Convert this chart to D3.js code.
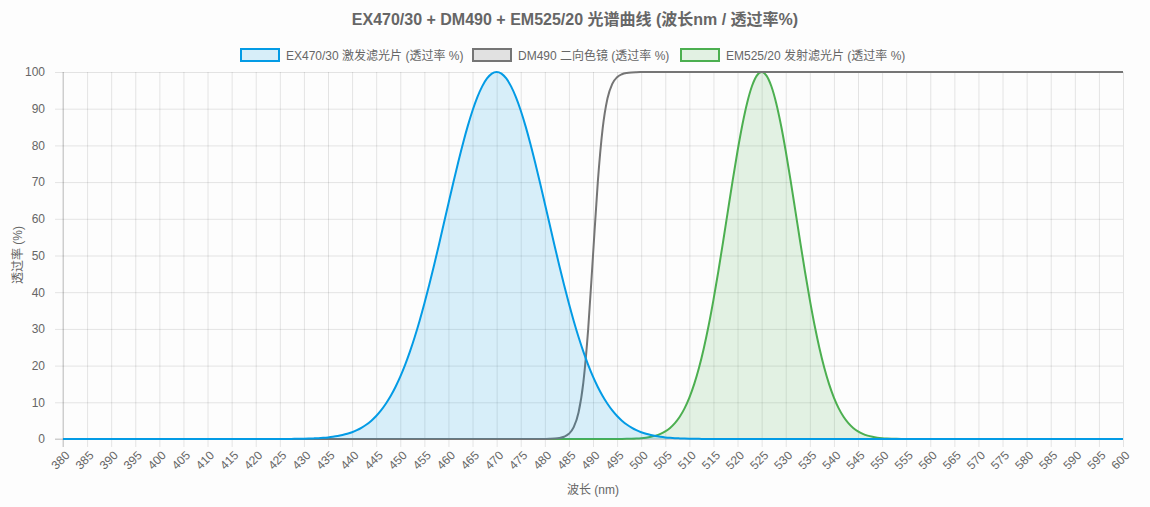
<!DOCTYPE html>
<html>
<head>
<meta charset="utf-8">
<script src="https://cdn.jsdelivr.net/npm/d3@7"></script>
<style>
  body { margin: 0; background: #fdfdfd; }
  svg { font-family: "Liberation Sans", Arial, "Noto Sans CJK SC", sans-serif; }
</style>
</head>
<body>
<div class="spectrum-plot"></div>
<script>
// wavelengths, 1 nm steps
const wavelengths = d3.range(380, 601);
const xTickLabels = d3.range(380, 601, 5);
const yTickLabels = [0, 10, 20, 30, 40, 50, 60, 70, 80, 90, 100];

// EX470/30 transmission (%), 380..600 nm
const exValues = [
  0,0,0,0,0,0,0,0,0,0, 0,0,0,0,0,0,0,0,0,0, 0,0,0,0,0,0,0,0,0,0, 0,0,0,0,0,0,0,0,0,0, 0,0,0,0,0,
  0.01,0.02,0.03,0.04,0.06,0.08,0.12,0.17,0.23,0.32,0.44,0.6,0.8,1.07,1.41,
  1.85,2.4,3.1,3.95,5.0,6.26,7.78,9.59,11.7,14.16,16.98,20.19,23.79,27.78,32.15,
  36.89,41.95,47.28,52.82,58.49,64.19,69.84,75.3,80.48,85.25,89.51,93.15,96.09,98.24,99.56,
  100,
  99.56,98.24,96.09,93.15,89.51,85.25,80.48,75.3,69.84,64.19,58.49,52.82,47.28,41.95,36.89,
  32.15,27.78,23.79,20.19,16.98,14.16,11.7,9.59,7.78,6.26,5.0,3.95,3.1,2.4,1.85,
  1.41,1.07,0.8,0.6,0.44,0.32,0.23,0.17,0.12,0.08,0.06,0.04,0.03,0.02,0.01,
  0,0,0,0,0,0,0,0,0,0, 0,0,0,0,0,0,0,0,0,0, 0,0,0,0,0,0,0,0,0,0, 0,0,0,0,0,0,0,0,0,0,
  0,0,0,0,0,0,0,0,0,0, 0,0,0,0,0,0,0,0,0,0, 0,0,0,0,0,0,0,0,0,0, 0,0,0,0,0,0,0,0,0,0, 0,0,0,0,0
];

// DM490 dichroic transmission (%)
const dmValues = [
  0,0,0,0,0,0,0,0,0,0, 0,0,0,0,0,0,0,0,0,0, 0,0,0,0,0,0,0,0,0,0, 0,0,0,0,0,0,0,0,0,0, 0,0,0,0,0,0,0,0,0,0,
  0,0,0,0,0,0,0,0,0,0, 0,0,0,0,0,0,0,0,0,0, 0,0,0,0,0,0,0,0,0,0, 0,0,0,0,0,0,0,0,0,0, 0,0,0,0,0,0,0,0,0,0,
  0.02,0.05,0.11,0.26,0.61,1.41,3.23,7.24,15.45,29.94,
  50,
  70.06,84.55,92.76,96.77,98.59,99.39,99.74,99.89,99.95,99.98,
  100,100,100,100,100,100,100,100,100,100, 100,100,100,100,100,100,100,100,100,100,
  100,100,100,100,100,100,100,100,100,100, 100,100,100,100,100,100,100,100,100,100,
  100,100,100,100,100,100,100,100,100,100, 100,100,100,100,100,100,100,100,100,100,
  100,100,100,100,100,100,100,100,100,100, 100,100,100,100,100,100,100,100,100,100,
  100,100,100,100,100,100,100,100,100,100, 100,100,100,100,100,100,100,100,100,100
];

// EM525/20 transmission (%)
const emValues = [
  0,0,0,0,0,0,0,0,0,0, 0,0,0,0,0,0,0,0,0,0, 0,0,0,0,0,0,0,0,0,0, 0,0,0,0,0,0,0,0,0,0,
  0,0,0,0,0,0,0,0,0,0, 0,0,0,0,0,0,0,0,0,0, 0,0,0,0,0,0,0,0,0,0, 0,0,0,0,0,0,0,0,0,0,
  0,0,0,0,0,0,0,0,0,0, 0,0,0,0,0,0,0,0,0,0, 0,0,0,0,0,0,0,0,0,0, 0,0,0,0,
  0.01,0.02,0.03,0.05,0.08,0.14,0.23,0.37,0.59,0.91,1.39,2.07,3.02,4.32,6.06,8.35,
  11.28,14.94,19.41,24.74,30.92,37.91,45.58,53.75,62.17,70.53,78.47,85.63,91.64,96.19,99.03,
  100,
  99.03,96.19,91.64,85.63,78.47,70.53,62.17,53.75,45.58,37.91,30.92,24.74,19.41,14.94,11.28,
  8.35,6.06,4.32,3.02,2.07,1.39,0.91,0.59,0.37,0.23,0.14,0.08,0.05,0.03,0.02,0.01,
  0,0,0,0,0,0,0,0,0,0, 0,0,0,0,0,0,0,0,0,0, 0,0,0,0,0,0,0,0,0,0, 0,0,0,0,0,0,0,0,0,0, 0,0,0,0
];

const seriesNames = ["EX470/30 激发滤光片 (透过率 %)", "DM490 二向色镜 (透过率 %)", "EM525/20 发射滤光片 (透过率 %)"];

function createChart() {
    const width = 1150;
    const height = 507;
    const left = 63, right = 1123, top = 72, bottom = 439;
    const textColor = "#666";
    const gridColor = "rgba(0,0,0,0.1)";

    const datasets = [
        { name: seriesNames[0], values: exValues, line: "#039be5", fill: "rgba(3,155,229,0.15)", filled: true },
        { name: seriesNames[1], values: dmValues, line: "#757575", fill: "rgba(117,117,117,0.2)", filled: false },
        { name: seriesNames[2], values: emValues, line: "#4caf50", fill: "rgba(76,175,80,0.15)", filled: true }
    ];

    const svg = d3.select(".spectrum-plot")
        .append("svg")
        .attr("width", width)
        .attr("height", height);

    const x = d3.scaleLinear().domain([380, 600]).range([left, right]);
    const y = d3.scaleLinear().domain([0, 100]).range([bottom, top]);

    // title
    svg.append("text")
        .attr("x", 575)
        .attr("y", 25)
        .attr("text-anchor", "middle")
        .attr("font-size", "16px")
        .attr("font-weight", "bold")
        .attr("fill", textColor)
        .text("EX470/30 + DM490 + EM525/20 光谱曲线 (波长nm / 透过率%)");

    // legend
    const legendX = [240, 472, 680];
    const legend = svg.selectAll(".legend-item")
        .data(datasets)
        .enter()
        .append("g")
        .attr("class", "legend-item")
        .attr("transform", (d, i) => `translate(${legendX[i]},49)`);
    legend.append("rect")
        .attr("x", 1).attr("y", 0)
        .attr("width", 38).attr("height", 12)
        .attr("fill", d => d.fill)
        .attr("stroke", d => d.line)
        .attr("stroke-width", 2);
    legend.append("text")
        .attr("x", 46)
        .attr("y", 10.5)
        .attr("font-size", "12px")
        .attr("fill", textColor)
        .text(d => d.name);

    // y axis + horizontal grid
    const yAxis = svg.append("g")
        .attr("transform", `translate(${left},0)`)
        .call(d3.axisLeft(y).tickValues(yTickLabels).tickSize(-(right - left)).tickPadding(18));
    yAxis.select(".domain").remove();
    yAxis.selectAll(".tick line").attr("x1", -8).attr("stroke", gridColor);
    yAxis.selectAll(".tick text")
        .attr("font-size", "12px")
        .attr("font-family", "Liberation Sans, Arial, sans-serif")
        .attr("fill", textColor);

    // x axis + vertical grid
    const xAxis = svg.append("g")
        .attr("transform", `translate(0,${bottom})`)
        .call(d3.axisBottom(x).tickValues(xTickLabels).tickSize(-(bottom - top)).tickFormat(d3.format("d")));
    xAxis.select(".domain").remove();
    xAxis.selectAll(".tick line").attr("y1", 8).attr("stroke", gridColor);
    xAxis.selectAll(".tick text")
        .attr("font-size", "12px")
        .attr("font-family", "Liberation Sans, Arial, sans-serif")
        .attr("fill", textColor)
        .attr("text-anchor", "end")
        .attr("transform", "translate(4,14) rotate(-45)")
        .attr("y", 0)
        .attr("dy", "0.35em");

    // axis lines
    svg.append("line")
        .attr("x1", left).attr("x2", left).attr("y1", top).attr("y2", bottom + 8)
        .attr("stroke", "rgba(0,0,0,0.18)");
    svg.append("line")
        .attr("x1", left - 8).attr("x2", right).attr("y1", bottom).attr("y2", bottom)
        .attr("stroke", "rgba(0,0,0,0.18)");

    // axis titles
    svg.append("text")
        .attr("transform", "translate(22,255) rotate(-90)")
        .attr("text-anchor", "middle")
        .attr("font-size", "12px")
        .attr("fill", textColor)
        .text("透过率 (%)");
    svg.append("text")
        .attr("x", 593)
        .attr("y", 494)
        .attr("text-anchor", "middle")
        .attr("font-size", "12px")
        .attr("fill", textColor)
        .text("波长 (nm)");

    const area = d3.area()
        .x((d, i) => x(wavelengths[i]))
        .y0(y(0))
        .y1(d => y(d))
        .curve(d3.curveMonotoneX);
    const line = d3.line()
        .x((d, i) => x(wavelengths[i]))
        .y(d => y(d))
        .curve(d3.curveMonotoneX);

    // first dataset ends up on top, so draw in reverse
    datasets.slice().reverse().forEach(ds => {
        if (ds.filled) {
            svg.append("path")
                .datum(ds.values)
                .attr("d", area)
                .attr("fill", ds.fill);
        }
        svg.append("path")
            .datum(ds.values)
            .attr("d", line)
            .attr("fill", "none")
            .attr("stroke", ds.line)
            .attr("stroke-width", 2);
    });
}

createChart();
</script>
</body>
</html>
